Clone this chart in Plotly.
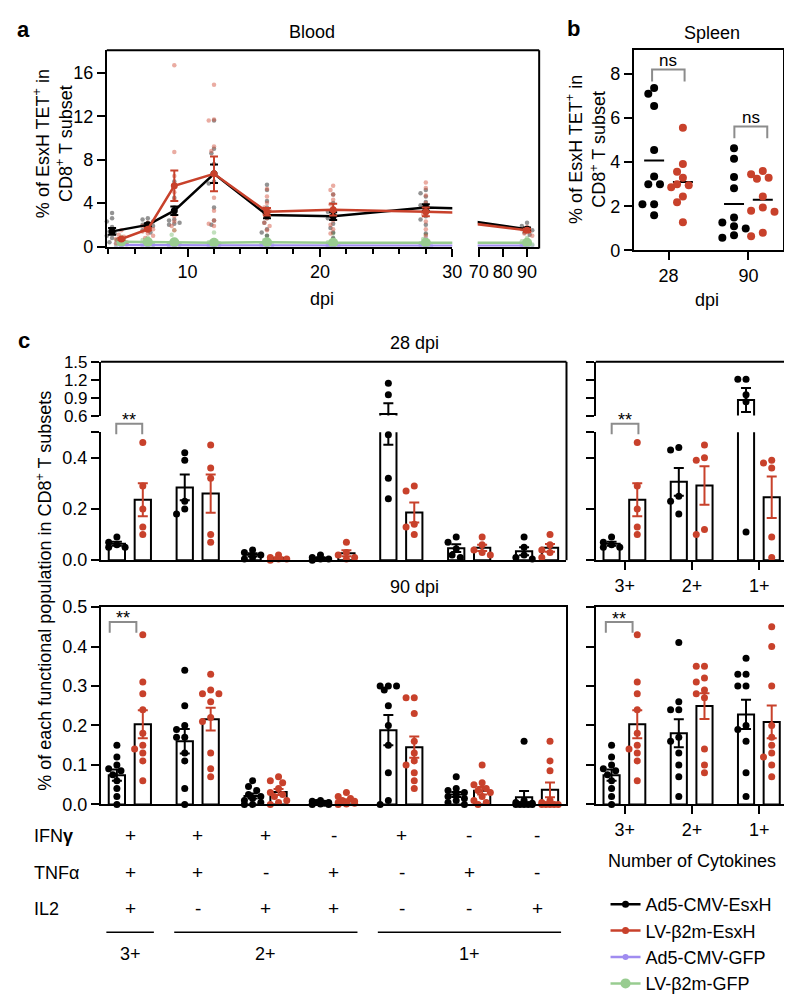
import numpy as np
import plotly.graph_objects as go

W, H = 792, 994
FONT = "Liberation Sans, Arial, Helvetica, sans-serif"
BLACK = "#000000"
RED = "#C8412B"
PURPLE = "#A08CF0"
GREEN = "#98CC90"
GREY = "#8C8C8C"


def fx(p):
    return p / W


def fy(p):
    return 1 - p / H


# ====================== DATA ======================
series_names = ["Ad5-CMV-EsxH", "LV-β2m-EsxH", "Ad5-CMV-GFP", "LV-β2m-GFP"]

# ---- (a) Blood ----
blood_days_ad5_esxh = [4.3, 7, 9, 12, 16, 21, 28, 90]
blood_days_lv_esxh = [5, 7, 9, 12, 16, 21, 28, 90]
blood_days_gfp = [5, 7, 9, 12, 16, 21, 28, 90]

blood_mean_ad5_esxh = [1.4, 2.0, 3.3, 6.7, 2.9, 2.8, 3.6, 1.6]
blood_sem_ad5_esxh = [0.3, 0.15, 0.4, 0.85, 0.3, 0.35, 0.3, 0.15]
blood_mean_lv_esxh = [0.7, 1.6, 5.6, 6.7, 3.2, 3.4, 3.2, 1.5]
blood_sem_lv_esxh = [0.1, 0.1, 1.4, 1.6, 0.35, 0.55, 0.4, 0.15]
blood_mean_ad5_gfp = [0.15, 0.12, 0.12, 0.1, 0.1, 0.08, 0.08, 0.08]
blood_mean_lv_gfp = [0.45, 0.42, 0.4, 0.35, 0.4, 0.35, 0.35, 0.35]

blood_pts_ad5_esxh = [
    [3.1, 2.6, 2.3, 1.8, 1.4, 1.2, 1.0, 0.8, 0.6, 0.4],
    [2.6, 2.5, 2.3, 2.2, 2.0, 1.9, 1.7, 1.5, 1.3],
    [6.0, 4.5, 3.6, 3.1, 2.5, 2.4, 2.2, 2.1, 2.0],
    [11.6, 9.0, 8.6, 7.6, 6.0, 5.8, 3.6, 2.4, 2.0],
    [5.7, 5.2, 4.2, 3.6, 3.2, 2.6, 2.2, 1.6, 1.3, 1.0],
    [4.8, 4.0, 3.5, 3.2, 2.8, 2.6, 2.1, 1.7, 1.3, 0.8],
    [5.2, 4.9, 4.6, 4.1, 3.8, 3.3, 2.8, 2.5, 2.0, 1.2],
    [2.2, 1.9, 1.7, 1.5, 1.3, 1.1],
]
blood_pts_lv_esxh = [
    [1.5, 1.1, 0.9, 0.7, 0.5, 0.4, 0.3],
    [2.2, 1.9, 1.7, 1.6, 1.4, 1.2, 1.0, 0.8],
    [16.7, 8.7, 6.5, 5.0, 4.3, 3.3, 2.8, 2.3, 1.9, 1.5],
    [14.9, 11.7, 11.6, 9.2, 8.8, 4.5, 3.3, 2.4, 2.1, 1.9],
    [5.3, 4.6, 4.0, 3.6, 3.3, 3.0, 2.6, 2.2, 1.9, 1.5],
    [5.6, 5.2, 4.8, 4.3, 3.9, 3.0, 2.4, 2.0, 1.6, 1.2],
    [5.9, 5.4, 4.7, 4.0, 3.4, 3.0, 2.3, 1.6, 1.0, 0.5],
    [1.8, 1.6, 1.4, 1.2, 1.0],
]
blood_pts_ad5_gfp = [
    [0.5, 0.3, 0.2, 0.1, 0.05],
    [0.4, 0.3, 0.15, 0.1, 0.05],
    [0.5, 0.3, 0.2, 0.1, 0.05],
    [0.4, 0.25, 0.15, 0.1, 0.05],
    [0.35, 0.25, 0.15, 0.1, 0.05],
    [0.3, 0.2, 0.1, 0.05, 0.02],
    [0.8, 0.3, 0.1, 0.05, 0.02],
    [0.3, 0.2, 0.1, 0.05, 0.02],
]
blood_pts_lv_gfp = [
    [0.9, 0.6, 0.45, 0.3, 0.2],
    [0.8, 0.6, 0.4, 0.3, 0.2],
    [1.5, 1.1, 0.5, 0.3, 0.2],
    [1.3, 0.6, 0.4, 0.3, 0.2],
    [1.0, 0.6, 0.4, 0.3, 0.2],
    [1.2, 0.7, 0.4, 0.3, 0.2],
    [1.1, 0.7, 0.4, 0.3, 0.2],
    [0.8, 0.5, 0.4, 0.3, 0.2],
]

# ---- (b) Spleen ----
spleen_days = ["28", "90"]
spleen_ad5_esxh = [
    [7.36, 7.1, 6.55, 4.55, 3.35, 3.0, 3.0, 2.1, 2.1, 1.6],
    [4.63, 4.16, 3.33, 2.82, 1.5, 1.27, 1.1, 1.0, 0.69, 0.58],
]
spleen_lv_esxh = [
    [5.56, 3.92, 3.57, 3.3, 3.0, 2.95, 2.86, 2.45, 2.18, 1.28],
    [3.6, 3.45, 3.3, 3.25, 2.45, 1.95, 1.8, 1.75, 0.8, 0.65],
]

# ---- (c) Functional populations ----
cyto_combos = ["IFN+TNF+IL2+", "IFN+TNF+", "IFN+IL2+", "TNF+IL2+", "IFN+", "TNF+", "IL2+"]
row_ifng = ["+", "+", "+", "-", "+", "-", "-"]
row_tnfa = ["+", "+", "-", "+", "-", "+", "-"]
row_il2 = ["+", "-", "+", "+", "-", "-", "+"]
cyto_numbers = ["3+", "2+", "1+"]

c28_ad5 = [
    [0.09, 0.07, 0.06, 0.05, 0.05],
    [0.42, 0.39, 0.23, 0.20, 0.18],
    [0.04, 0.03, 0.02, 0.01, 0.005],
    [0.02, 0.01, 0.005, 0.005, 0.0],
    [1.14, 0.95, 0.49, 0.32, 0.24],
    [0.09, 0.07, 0.045, 0.02, 0.01],
    [0.09, 0.05, 0.02, 0.01, 0.005],
]
c28_lv = [
    [0.46, 0.29, 0.20, 0.13, 0.10],
    [0.45, 0.36, 0.32, 0.10, 0.07],
    [0.02, 0.01, 0.005, 0.005, 0.0],
    [0.07, 0.03, 0.02, 0.01, 0.005],
    [0.29, 0.27, 0.14, 0.13, 0.10],
    [0.09, 0.06, 0.04, 0.03, 0.02],
    [0.10, 0.06, 0.04, 0.03, 0.01],
]
c28_num_ad5 = [
    [0.09, 0.07, 0.06, 0.05, 0.05],
    [0.44, 0.43, 0.25, 0.23, 0.18],
    [1.21, 1.21, 0.95, 0.83, 0.11],
]
c28_num_lv = [
    [0.46, 0.29, 0.20, 0.13, 0.10],
    [0.45, 0.40, 0.39, 0.12, 0.10],
    [0.39, 0.38, 0.36, 0.09, 0.01],
]
c90_ad5 = [
    [0.15, 0.12, 0.10, 0.09, 0.085, 0.075, 0.06, 0.04, 0.02, 0.0],
    [0.34, 0.25, 0.20, 0.19, 0.17, 0.17, 0.13, 0.11, 0.04, 0.0],
    [0.06, 0.045, 0.035, 0.025, 0.02, 0.015, 0.01, 0.005, 0.0, 0.0],
    [0.01, 0.008, 0.005, 0.005, 0.003, 0.002, 0.002, 0.001, 0.0, 0.0],
    [0.30, 0.30, 0.30, 0.29, 0.25, 0.20, 0.15, 0.08, 0.01, 0.0],
    [0.07, 0.04, 0.035, 0.03, 0.025, 0.02, 0.015, 0.01, 0.005, 0.0],
    [0.16, 0.01, 0.005, 0.003, 0.002, 0.0, 0.0, 0.0, 0.0, 0.0],
]
c90_lv = [
    [0.43, 0.31, 0.28, 0.24, 0.18, 0.15, 0.14, 0.13, 0.11, 0.06],
    [0.33, 0.29, 0.28, 0.28, 0.26, 0.22, 0.21, 0.13, 0.09, 0.07],
    [0.07, 0.06, 0.055, 0.04, 0.03, 0.025, 0.02, 0.01, 0.005, 0.0],
    [0.03, 0.02, 0.015, 0.01, 0.008, 0.005, 0.005, 0.003, 0.001, 0.0],
    [0.27, 0.27, 0.23, 0.16, 0.13, 0.11, 0.10, 0.08, 0.06, 0.04],
    [0.10, 0.055, 0.05, 0.04, 0.035, 0.03, 0.02, 0.01, 0.005, 0.0],
    [0.16, 0.11, 0.085, 0.01, 0.005, 0.0, 0.0, 0.0, 0.0, 0.0],
]
c90_num_ad5 = [
    [0.15, 0.12, 0.10, 0.09, 0.085, 0.075, 0.06, 0.04, 0.02, 0.0],
    [0.41, 0.26, 0.24, 0.24, 0.17, 0.16, 0.13, 0.10, 0.07, 0.02],
    [0.37, 0.33, 0.33, 0.30, 0.30, 0.20, 0.19, 0.16, 0.08, 0.02],
]
c90_num_lv = [
    [0.43, 0.31, 0.28, 0.24, 0.18, 0.15, 0.14, 0.13, 0.11, 0.06],
    [0.35, 0.35, 0.32, 0.31, 0.29, 0.28, 0.27, 0.14, 0.10, 0.08],
    [0.45, 0.40, 0.30, 0.20, 0.17, 0.15, 0.13, 0.12, 0.10, 0.07],
]


# ====================== HELPERS ======================
def swarm_offsets(vals, ypx, xpu, d, step=0.6, maxk=3):
    order = sorted(range(len(vals)), key=lambda i: -vals[i])
    placed = []
    offs = [0.0] * len(vals)
    cands = [0]
    for m in range(1, maxk + 1):
        cands += [-m, m]
    for i in order:
        y = ypx(vals[i])
        best, bestov = 0.0, None
        for c in cands:
            xo = c * d * step
            ov = sum(max(0.0, d - np.hypot(xo - px, y - py)) for px, py in placed)
            if ov == 0:
                best, bestov = xo, 0
                break
            if bestov is None or ov < bestov:
                best, bestov = xo, ov
        placed.append((best, y))
        offs[i] = best / xpu
    return offs


fig = go.Figure()
shapes = []
annotations = []


def ann(text, xp, yp, size=18, xanchor="center", yanchor="middle", angle=0, color="black"):
    annotations.append(dict(text=text, x=fx(xp), y=fy(yp), xref="paper", yref="paper",
                            showarrow=False, xanchor=xanchor, yanchor=yanchor,
                            textangle=angle, font=dict(size=size, color=color, family=FONT)))


def pline(x0, y0, x1, y1, color="black", w=2):
    shapes.append(dict(type="line", xref="paper", yref="paper", x0=fx(x0), y0=fy(y0),
                       x1=fx(x1), y1=fy(y1), line=dict(color=color, width=w)))


def bracket(xa, xb, ytop, ybot, color=GREY):
    path = (f"M {fx(xa)},{fy(ybot)} L {fx(xa)},{fy(ytop)} "
            f"L {fx(xb)},{fy(ytop)} L {fx(xb)},{fy(ybot)}")
    shapes.append(dict(type="path", xref="paper", yref="paper", path=path,
                       line=dict(color=color, width=2)))


common = dict(showline=True, linecolor="black", linewidth=2, ticks="outside", ticklen=8,
              tickwidth=2, tickcolor="black", showgrid=False, zeroline=False,
              tickfont=dict(size=18, color="black", family=FONT), fixedrange=True)

# ====================== PANEL A ======================
a_groups = [
    (series_names[2], blood_days_gfp, blood_mean_ad5_gfp, None, blood_pts_ad5_gfp,
     PURPLE, "rgba(160,140,240,0.5)", 6, 3),
    (series_names[3], blood_days_gfp, blood_mean_lv_gfp, None, blood_pts_lv_gfp,
     GREEN, "rgba(152,204,144,0.6)", 10, 4),
    (series_names[0], blood_days_ad5_esxh, blood_mean_ad5_esxh, blood_sem_ad5_esxh,
     blood_pts_ad5_esxh, BLACK, "rgba(40,40,40,0.5)", 7, 1),
    (series_names[1], blood_days_lv_esxh, blood_mean_lv_esxh, blood_sem_lv_esxh,
     blood_pts_lv_esxh, RED, "rgba(214,90,70,0.5)", 7, 2),
]
a_segments = [("x", "y", 3.9, 30.0, 13.56), ("x2", "y2", 69.6, 95.0, 2.5)]
A_YPU = 11.14
for si, (xa, ya, lo, hi, xpu) in enumerate(a_segments):
    for (name, days, means, sems, pts, col, dcol, msz, rank) in a_groups:
        xs, ys = [], []
        for d, vals in zip(days, pts):
            if lo <= d <= hi:
                offs = swarm_offsets(vals, lambda v: v * A_YPU, xpu, 4.5, step=0.6, maxk=2)
                xs += [d + o for o in offs]
                ys += list(vals)
        fig.add_trace(go.Scatter(x=xs, y=ys, mode="markers", xaxis=xa, yaxis=ya,
                                 marker=dict(size=4.5, color=dcol), cliponaxis=False,
                                 showlegend=False, hoverinfo="skip"))
    for (name, days, means, sems, pts, col, dcol, msz, rank) in a_groups:
        err = dict(type="data", array=sems, color=col, thickness=2, width=4) if sems else None
        fig.add_trace(go.Scatter(x=days, y=means, mode="lines+markers", xaxis=xa, yaxis=ya,
                                 name=name, legendrank=rank,
                                 line=dict(color=col, width=2.5),
                                 marker=dict(size=msz, color=col),
                                 error_y=err, showlegend=(si == 1)))

# ====================== PANEL B ======================
B_XPU, B_YPU = 82.0, 22.6
for gi, (vals_list, col, off) in enumerate([(spleen_ad5_esxh, BLACK, -0.18),
                                             (spleen_lv_esxh, RED, 0.18)]):
    xs, ys = [], []
    for ci, vals in enumerate(vals_list):
        offs = swarm_offsets(vals, lambda v: v * B_YPU, B_XPU, 8, step=0.75, maxk=2)
        xs += [ci + off + o for o in offs]
        ys += list(vals)
        m = float(np.mean(vals))
        fig.add_trace(go.Scatter(x=[ci + off - 0.125, ci + off + 0.125], y=[m, m],
                                 mode="lines", line=dict(color="black", width=2),
                                 xaxis="x3", yaxis="y3", showlegend=False, hoverinfo="skip"))
    fig.add_trace(go.Scatter(x=xs, y=ys, mode="markers", xaxis="x3", yaxis="y3",
                             marker=dict(size=8, color=col), showlegend=False,
                             cliponaxis=False))

# ====================== PANEL C ======================
BLK_OFF, RED_OFF, BAR_W = -0.315, 0.067, 0.24


def ypx_broken(v):
    return v * 262 if v <= 0.5 else 131 + 17 + (v - 0.6) * 61


def ypx_plain(v):
    return v * 405


def add_bar_panel(axes, black_groups, red_groups, xpu, ypx):
    cats = list(range(len(black_groups)))
    stats = []
    for groups in (black_groups, red_groups):
        mu = [float(np.mean(g)) for g in groups]
        se = [float(np.std(g, ddof=1) / np.sqrt(len(g))) for g in groups]
        stats.append((mu, se))
    for (xa, ya, lo, hi) in axes:
        for (mu, se), off, ecol in zip(stats, (BLK_OFF, RED_OFF), (BLACK, RED)):
            fig.add_trace(go.Bar(x=cats, y=mu, width=BAR_W, offset=off, xaxis=xa, yaxis=ya,
                                 marker=dict(color="white", line=dict(color="black", width=2)),
                                 error_y=dict(type="data", array=se, color=ecol,
                                              thickness=2, width=5),
                                 showlegend=False, hoverinfo="skip"))
        for groups, off, col in ((black_groups, BLK_OFF, BLACK), (red_groups, RED_OFF, RED)):
            xs, ys = [], []
            for ci, vals in enumerate(groups):
                offs = swarm_offsets(vals, ypx, xpu, 7, step=0.6, maxk=2)
                for v, o in zip(vals, offs):
                    if lo <= v <= hi:
                        xs.append(ci + off + BAR_W / 2 + o)
                        ys.append(v)
            fig.add_trace(go.Scatter(x=xs, y=ys, mode="markers", xaxis=xa, yaxis=ya,
                                     marker=dict(size=7, color=col), cliponaxis=False,
                                     showlegend=False, hoverinfo="skip"))


add_bar_panel([("x4", "y4", 0.6, 1.6), ("x5", "y5", -0.01, 0.5)], c28_ad5, c28_lv, 69.5, ypx_broken)
add_bar_panel([("x6", "y6", 0.6, 1.6), ("x7", "y7", -0.01, 0.5)], c28_num_ad5, c28_num_lv, 68.7, ypx_broken)
add_bar_panel([("x8", "y8", -0.01, 0.6)], c90_ad5, c90_lv, 69.5, ypx_plain)
add_bar_panel([("x9", "y9", -0.01, 0.6)], c90_num_ad5, c90_num_lv, 68.7, ypx_plain)

# ====================== AXES ======================
CL, CR = 86, 563
RL, RR = 593, 790
small_tick = dict(size=17, color="black", family=FONT)
layout_axes = dict(
    xaxis=dict(common, domain=[fx(92), fx(446)], range=[3.9, 30.0], tickvals=[10, 20, 30],
               anchor="y",
               minor=dict(ticks="outside", dtick=2, tick0=0, ticklen=5, tickwidth=2,
                          tickcolor="black", showgrid=False)),
    yaxis=dict(common, domain=[fy(234), fy(33)], range=[0, 18.07], tickvals=[0, 4, 8, 12, 16],
               anchor="x"),
    xaxis2=dict(common, domain=[fx(472), fx(535)], range=[69.6, 95.0], tickvals=[70, 80, 90],
                anchor="y2"),
    yaxis2=dict(common, domain=[fy(234), fy(33)], range=[0, 18.07], anchor="x2", visible=False),
    xaxis3=dict(common, domain=[fx(632), fx(785)], range=[-0.434, 1.435], tickvals=[0, 1],
                ticktext=spleen_days, anchor="y3", mirror=True),
    yaxis3=dict(common, domain=[fy(238), fy(33)], range=[0, 9.07], tickvals=[0, 2, 4, 6, 8],
                anchor="x3", mirror=True),
    xaxis4=dict(common, domain=[fx(CL), fx(CR)], range=[-0.43, 6.43], anchor="y4", visible=False),
    yaxis4=dict(common, domain=[fy(407), fy(352)], range=[0.6, 1.5], tickfont=small_tick,
                tickvals=[0.6, 0.9, 1.2, 1.5], ticktext=["0.6", "0.9", "1.2", "1.5"], anchor="x4"),
    xaxis5=dict(common, domain=[fx(CL), fx(CR)], range=[-0.43, 6.43], anchor="y5", ticks="",
                showticklabels=False),
    yaxis5=dict(common, domain=[fy(555), fy(424)], range=[0, 0.5],
                tickvals=[0, 0.2, 0.4, 0.5], ticktext=["0.0", "0.2", "0.4", ""], anchor="x5"),
    xaxis6=dict(common, domain=[fx(RL), fx(RR)], range=[-0.43, 2.43], anchor="y6", visible=False),
    yaxis6=dict(common, domain=[fy(407), fy(352)], range=[0.6, 1.5],
                tickvals=[0.6, 0.9, 1.2, 1.5], showticklabels=False, anchor="x6"),
    xaxis7=dict(common, domain=[fx(RL), fx(RR)], range=[-0.43, 2.43], anchor="y7",
                tickvals=[0, 1, 2], ticktext=cyto_numbers),
    yaxis7=dict(common, domain=[fy(555), fy(424)], range=[0, 0.5],
                tickvals=[0, 0.2, 0.4, 0.5], showticklabels=False, anchor="x7"),
    xaxis8=dict(common, domain=[fx(CL), fx(CR)], range=[-0.43, 6.43], anchor="y8", ticks="",
                showticklabels=False, mirror=True),
    yaxis8=dict(common, domain=[fy(805), fy(603)], range=[0, 0.5], dtick=0.1,
                tickformat=".1f", anchor="x8", mirror=True),
    xaxis9=dict(common, domain=[fx(RL), fx(RR)], range=[-0.43, 2.43], anchor="y9",
                tickvals=[0, 1, 2], ticktext=cyto_numbers, mirror=True),
    yaxis9=dict(common, domain=[fy(805), fy(603)], range=[0, 0.5], dtick=0.1,
                showticklabels=False, anchor="x9", mirror=True),
)

# ====================== FRAMES / DECORATION ======================
pline(92, 33, 535, 33)
pline(535, 33, 535, 236)
pline(CL, 352, CR, 352)
pline(CR, 352, CR, 555)
pline(RL, 352, RR, 352)
pline(RR, 352, RR, 555)

# significance brackets
bracket(650.7, 684, 52.7, 65)
bracket(735, 768.7, 111, 123)
ann("ns", 667.5, 44, size=17)
ann("ns", 752, 102, size=17)
bracket(101.7, 128.3, 415.3, 426)
bracket(609.3, 636.7, 415.3, 426)
bracket(95, 122.3, 618.3, 629.3)
bracket(603.3, 630.7, 618.3, 629.3)
for xc, yc in [(115, 412), (623, 412), (108.7, 614), (617, 615)]:
    ann("**", xc, yc, size=18)

# panel labels and titles
ann("<b>a</b>", 7, 12, size=22)
ann("<b>b</b>", 570, 11, size=22)
ann("<b>c</b>", 7, 330, size=22)
ann("Blood", 302, 14)
ann("Spleen", 712, 15)
ann("dpi", 313, 288)
ann("dpi", 707, 289)
ann("% of EsxH TET<sup>+</sup> in<br>CD8<sup>+</sup> T subset", 37, 129, angle=-90)
ann("% of EsxH TET<sup>+</sup> in<br>CD8<sup>+</sup> T subset", 583, 135, angle=-90)
ann("% of each functional population in CD8<sup>+</sup> T subsets", 28, 586, angle=-90)
ann("28 dpi", 407.5, 333)
ann("90 dpi", 407.5, 582)
ann("Number of Cytokines", 692, 863)

# cytokine table below panel c
for label, row, yp in [("IFN<b>γ</b>", row_ifng, 837), ("TNFα", row_tnfa, 875), ("IL2", row_il2, 912)]:
    ann(label, 15, yp, xanchor="left")
    for ci, s in enumerate(row):
        annotations.append(dict(text=s, x=ci, y=fy(yp), xref="x8", yref="paper",
                                xanchor="center", yanchor="middle", showarrow=False,
                                font=dict(size=19, color="black", family=FONT)))
span_groups = [(0, 0, "3+"), (1, 3, "2+"), (4, 6, "1+")]
for a0, a1, lab in span_groups:
    shapes.append(dict(type="line", xref="x8", yref="paper", x0=a0 - 0.35, x1=a1 + 0.35,
                       y0=fy(936), y1=fy(936), line=dict(color="black", width=1.5)))
    annotations.append(dict(text=lab, x=(a0 + a1) / 2, y=fy(958), xref="x8", yref="paper",
                            xanchor="center", yanchor="middle", showarrow=False,
                            font=dict(size=18, color="black", family=FONT)))

fig.update_layout(
    width=W, height=H, margin=dict(l=0, r=0, t=0, b=0),
    paper_bgcolor="white", plot_bgcolor="white",
    font=dict(family=FONT, size=18, color="black"),
    barmode="overlay", showlegend=True,
    legend=dict(x=fx(603), y=fy(889), xanchor="left", yanchor="top",
                font=dict(size=18, family=FONT, color="black"),
                bgcolor="rgba(0,0,0,0)", tracegroupgap=0, itemwidth=30),
    shapes=shapes, annotations=annotations,
    **layout_axes,
)

fig.write_html("out.html")
